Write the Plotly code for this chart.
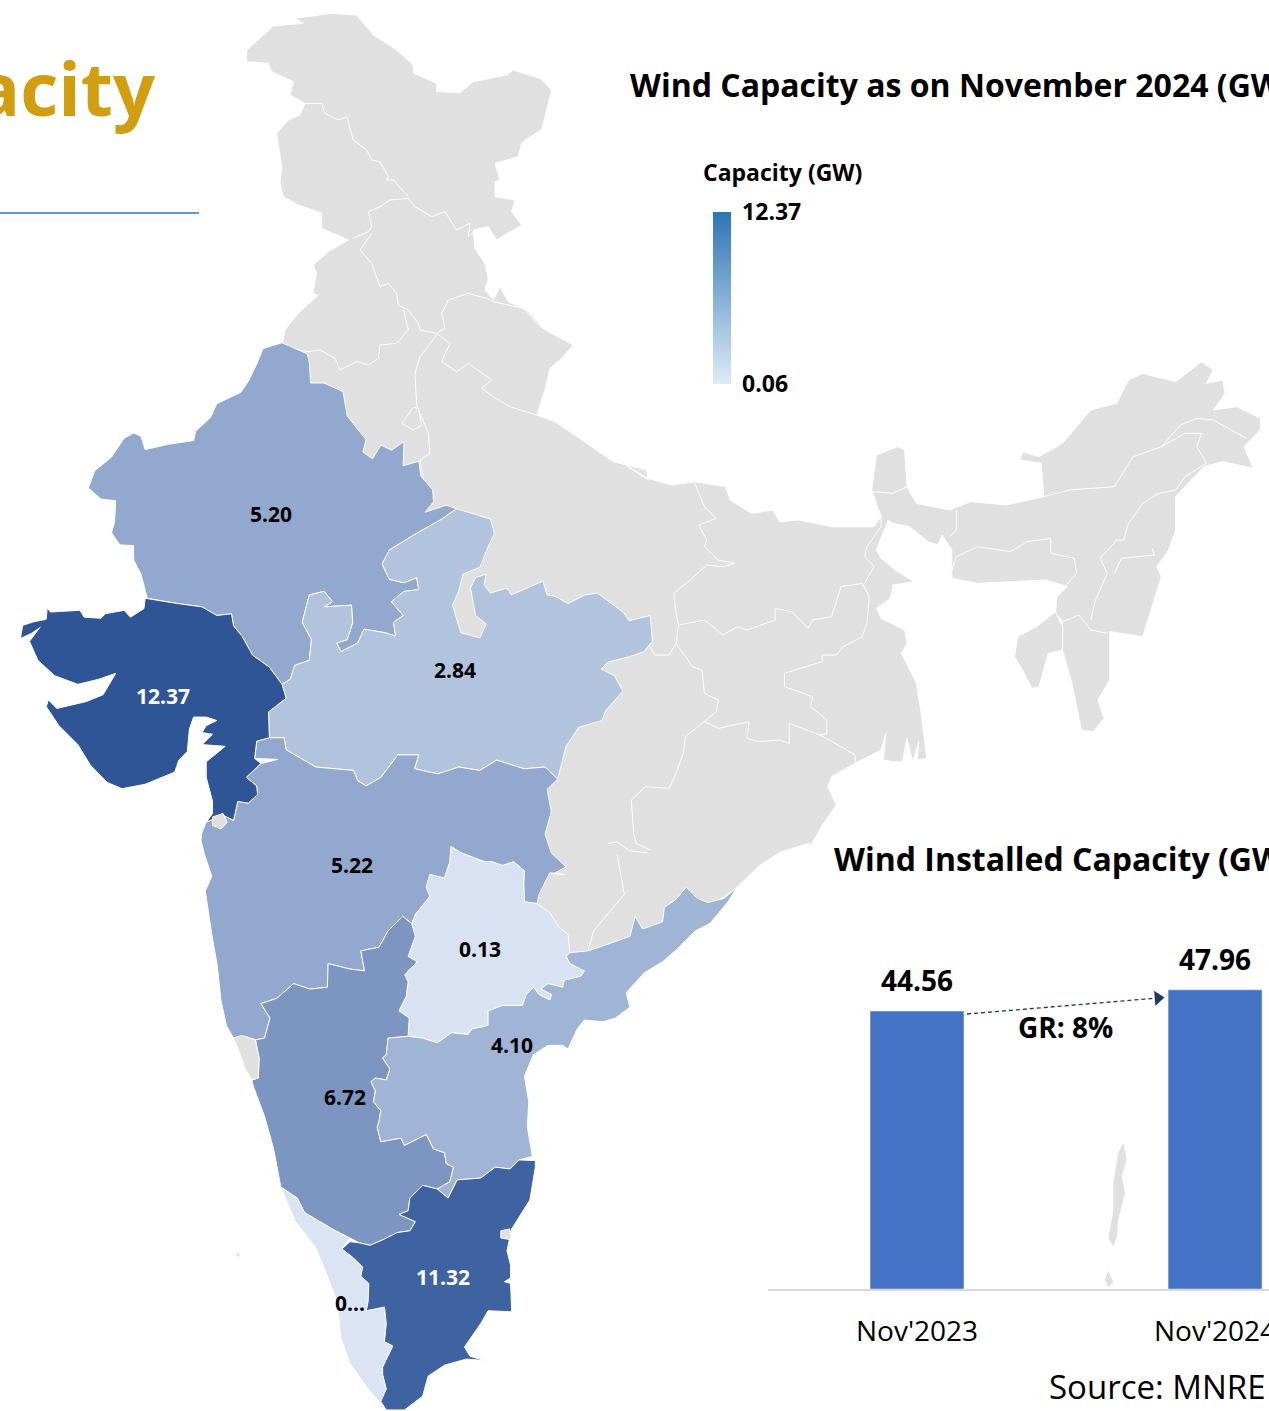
import plotly.graph_objects as go

# ---------- data ----------
bar_categories = ["Nov'2023", "Nov'2024"]
bar_values = [44.56, 47.96]
state_names = ["Gujarat", "Tamil Nadu", "Karnataka", "Maharashtra", "Rajasthan", "Andhra Pradesh", "Madhya Pradesh", "Telangana", "Kerala"]
state_values = [12.37, 11.32, 6.72, 5.22, 5.20, 4.10, 2.84, 0.13, 0.06]
state_labels = ["12.37", "11.32", "6.72", "5.22", "5.20", "4.10", "2.84", "0.13", "0..."]
state_label_colors = ["white", "white", "black", "black", "black", "black", "black", "black", "black"]
state_label_x = [163, 443, 345, 352, 271, 512, 455, 480, 350]
state_label_y = [699, 1280, 1100, 868, 517, 1048, 673, 952, 1306]
state_fill = ["#2F5597", "#3F62A0", "#7D95C1", "#93A8CE", "#93A8CE", "#A0B4D6", "#B2C3DE", "#D9E2F3", "#DBE4F3"]

# ---------- map geometry, traced from four frames ----------
def Z1(p): return [(x / 2.376, 340 + y / 2.904) for x, y in p]
def Z2(p): return [(190 + x / 2.751, 840 + y / 2.751) for x, y in p]
def Z3(p): return [(240 + x / 3, y / 3) for x, y in p]
def Z4(p): return [(530 + x / 2.122, 350 + y / 3) for x, y in p]
def Z5(p): return [(760 + x / 3, 830 + y / 2.7) for x, y in p]

rajasthan = Z1([(670,8),(625,25),(610,70),(590,120),(572,152),(515,185),(500,225),(465,265),(460,292),(400,303),(345,318),(335,280),(318,270),(295,285),(265,340),(225,380),(210,430),(240,462),(275,467),(272,530),(265,560),(285,595),(317,597),(318,640),(335,680),(350,750),(420,765),(480,775),(515,800),(550,795),(555,830),(575,860),(600,915),(640,950),(670,1000),(690,985),(700,945),(735,930),(740,870),(718,820),(735,740),(770,730),(790,760),(770,775),(835,770),(838,820),(825,870),(800,880),(810,905),(850,880),(865,840),(915,850),(940,860),(935,820),(958,800),(930,760),(960,730),(995,725),(990,690),(960,705),(925,695),(908,650),(925,610),(985,565),(1050,520),(1085,490),(1060,480),(1010,500),(1030,470),(1028,435),(1000,395),(995,352),(958,365),(960,295),(930,320),(905,305),(885,345),(862,325),(870,290),(825,220),(815,150),(770,125),(738,125),(735,65),(730,40),(670,8)])
gujarat = Z1([(345,750),(342,780),(310,805),(295,785),(250,795),(240,808),(200,805),(190,785),(120,790),(112,778),(110,810),(70,875),(90,930),(130,975),(185,1000),(235,985),(275,968),(245,1030),(205,1050),(135,1070),(115,1045),(110,1065),(140,1120),(185,1175),(215,1235),(255,1285),(290,1303),(345,1290),(415,1255),(425,1220),(445,1195),(450,1130),(460,1095),(490,1095),(515,1105),(490,1120),(480,1140),(505,1145),(480,1175),(535,1180),(490,1225),(490,1270),(505,1340),(505,1375),(490,1400),(530,1380),(555,1395),(565,1340),(590,1345),(612,1320),(610,1295),(585,1270),(620,1230),(605,1215),(610,1165),(640,1155),(638,1080),(680,1040),(670,1000),(640,950),(600,915),(575,860),(555,830),(550,795),(515,800),(480,775),(420,765),(345,750)])
kutch_islets = Z1([(50,865),(55,830),(80,820),(120,810),(100,830),(75,850),(50,865)])
madhya = Z1([(1085,490),(1165,520),(1175,560),(1160,600),(1140,660),(1100,680),(1090,730),(1075,770),(1095,850),(1140,865),(1155,825),(1130,800),(1118,720),(1130,690),(1155,680),(1150,710),(1165,735),(1205,720),(1215,740),(1290,700),(1300,740),(1320,745),(1350,765),(1390,740),(1420,735),(1480,790),(1495,815),(1545,800),(1550,875),(1530,905),(1495,920),(1445,935),(1428,955),(1460,975),(1480,1020),(1440,1075),(1430,1105),(1375,1125),(1345,1180),(1325,1275),(1295,1240),(1245,1245),(1180,1220),(1140,1250),(1090,1240),(1040,1260),(985,1245),(995,1205),(945,1205),(905,1270),(870,1295),(850,1280),(840,1250),(750,1240),(680,1190),(675,1155),(640,1155),(638,1080),(680,1040),(670,1000),(690,985),(700,945),(735,930),(740,870),(718,820),(735,740),(770,730),(790,760),(770,775),(835,770),(838,820),(825,870),(800,880),(810,905),(850,880),(865,840),(915,850),(940,860),(935,820),(958,800),(930,760),(960,730),(995,725),(990,690),(960,705),(925,695),(908,650),(925,610),(985,565),(1050,520),(1085,490)])
maharashtra = Z1([(490,1400),(530,1380),(555,1395),(565,1340),(590,1345),(612,1320),(610,1295),(585,1270),(620,1230),(660,1218),(605,1215),(610,1165),(640,1155),(675,1155),(680,1190),(750,1240),(840,1250),(850,1280),(870,1295),(905,1270),(945,1205),(995,1205),(985,1245),(1040,1260),(1090,1240),(1140,1250),(1180,1220),(1245,1245),(1295,1240),(1325,1275),(1300,1305),(1310,1370),(1295,1435),(1310,1490),(1345,1530),(1315,1550)]) + Z2([(1030,95),(990,90),(960,150),(955,175),(920,170),(918,120),(920,85),(890,60),(860,70),(830,60),(810,60),(745,35),(718,18),(715,60),(700,105),(660,95),(650,130),(660,155),(620,205),(610,230),(585,210),(545,250),(520,295),(470,305),(480,360),(440,355),(380,340),(378,405),(330,410),(285,395),(240,435),(195,450),(220,490),(205,545),(180,550),(150,540),(120,545),(100,510),(85,440),(75,345),(60,260),(50,200),(42,140),(60,100),(40,40),(30,0)]) + Z1([(480,1430),(490,1400)])
telangana = Z2([(718,18),(745,35),(810,60),(830,60),(860,70),(890,60),(920,85),(918,120),(920,170),(955,175),(990,200),(1015,240),(1040,260),(1045,310),(1035,320),(1045,340),(1085,360),(1075,375),(1030,385),(1025,405),(985,395),(965,410),(995,425),(990,440),(960,425),(945,405),(925,425),(915,455),(860,455),(820,470),(820,510),(775,520),(765,535),(720,530),(680,558),(640,545),(600,540),(603,490),(575,470),(595,430),(600,390),(590,370),(625,335),(600,320),(620,265),(610,230),(620,205),(660,155),(650,130),(660,95),(700,105),(715,60),(718,18)])
karnataka = Z2([(610,230),(620,265),(600,320),(625,335),(590,370),(600,390),(595,430),(575,470),(603,490),(600,540),(545,545),(540,590),(530,600),(550,630),(540,660),(510,655),(498,665),(510,690),(505,720),(525,745),(520,775),(515,790),(525,830),(555,825),(580,820),(590,840),(630,820),(650,810),(670,850),(700,860),(705,890),(725,900),(715,940),(680,960),(640,950),(605,985),(600,1020),(575,1030),(620,1050),(605,1075),(570,1080),(530,1100),(495,1115),(465,1108),(440,1095),(400,1075),(365,1055),(315,1025),(295,985),(250,955),(230,850),(205,760),(175,680),(170,660),(188,655),(190,600),(180,550),(205,545),(220,490),(195,450),(240,435),(285,395),(330,410),(378,405),(380,340),(440,355),(480,360),(470,305),(520,295),(545,250),(585,210),(610,230)])
goa = Z2([(120,545),(140,538),(150,540),(180,550),(190,600),(188,655),(170,660),(150,625),(140,595),(120,545)])
andhra = Z2([(1045,310),(1095,305),(1140,290),(1210,265),(1225,210),(1245,245),(1300,225),(1305,185),(1335,165),(1365,130),(1395,160),(1425,172),(1470,160),(1505,130),(1480,170),(1430,230),(1390,250),(1340,300),(1300,335),(1250,365),(1200,420),(1210,460),(1170,490),(1135,500),(1085,495),(1065,520),(1040,575),(1025,565),(985,565),(945,590),(920,650),(932,720),(928,790),(942,870),(905,880),(880,905),(840,900),(800,930),(735,935),(710,985),(680,960),(715,940),(725,900),(705,890),(700,860),(670,850),(650,810),(630,820),(590,840),(580,820),(555,825),(525,830),(515,790),(520,775),(525,745),(505,720),(510,690),(498,665),(510,655),(540,660),(550,630),(530,600),(540,590),(545,545),(600,540),(640,545),(680,558),(720,530),(765,535),(775,520),(820,510),(820,470),(860,455),(915,455),(925,425),(945,405),(960,425),(990,440),(995,425),(965,410),(985,395),(1025,405),(1030,385),(1075,375),(1085,360),(1045,340),(1035,320),(1045,310)])
tamil_nadu = Z2([(950,882),(905,880),(880,905),(840,900),(800,930),(735,935),(710,985),(680,960),(640,950),(605,985),(600,1020),(575,1030),(620,1050),(605,1075),(570,1080),(530,1100),(495,1115),(465,1108),(440,1105),(418,1125),(450,1150),(475,1175),(470,1200),(492,1220),(490,1270),(485,1295),(535,1285),(540,1330),(535,1380),(558,1392),(530,1450),(530,1470),(540,1510),(525,1545),(540,1568),(590,1568),(640,1530),(655,1475),(700,1445),(760,1428),(810,1432),(770,1420),(755,1395),(800,1330),(820,1295),(885,1298),(882,1220),(865,1215),(882,1205),(882,1170),(872,1130),(885,1070),(935,990),(950,900),(950,882)])
puducherry = Z2([(855,1075),(880,1070),(885,1100),(855,1095),(855,1075)])
kerala = Z2([(250,955),(295,985),(315,1025),(365,1055),(400,1075),(440,1095),(418,1125),(450,1150),(475,1175),(470,1200),(492,1220),(490,1270),(485,1295),(535,1285),(540,1330),(535,1380),(558,1392),(530,1450),(530,1470),(540,1510),(525,1550),(490,1510),(440,1440),(415,1370),(405,1270),(370,1180),(345,1120),(290,1050),(250,955)])
dadra = Z1([(505,1385),(530,1375),(540,1400),(525,1420),(505,1410),(505,1385)])
lakshadweep = Z2([(125,1132),(138,1142),(132,1148),(125,1132)])

grey_mainland = Z3([(125,1040),(135,990),(175,940),(235,885),(218,880),(230,820),(220,795),(265,755),(325,720),(245,685),(245,640),(175,615),(130,590),(120,550),(125,500),(110,400),(145,360),(180,345),(195,310),(150,285),(160,245),(95,215),(85,190),(20,185),(20,150),(75,100),(100,78),(190,70),(165,55),(275,40),(350,45),(400,105),(470,150),(520,195),(520,220),(590,250),(590,275),(660,278),(700,245),(800,225),(820,210),(900,235),(935,270),(915,350),(905,390),(870,410),(845,430),(835,470),(765,490),(780,540),(765,545),(765,590),(825,600),(815,635),(845,675),(770,720),(745,680),(700,690),(705,745),(735,790),(745,835),(735,870),(760,900),(780,860),(805,905),(860,930),(915,990),(1000,1035),(965,1075),(930,1105),(915,1170),(890,1245),(945,1265),(1040,1330),(1120,1385),(1220,1410),(1225,1440)]) + Z4([(180,325),(250,385),(300,405),(350,395),(415,410),(425,450),(470,490),(515,480),(530,515),(570,510),(640,530),(730,530),(745,500),(725,420),(735,315),(780,290),(795,300),(800,410),(820,460),(890,480),(935,455),(1010,465),(1090,440),(1085,340),(1040,330),(1045,305),(1080,320),(1130,280),(1190,180),(1245,160),(1270,90),(1300,70),(1370,95),(1425,35),(1450,60),(1435,100),(1470,90),(1475,130),(1450,180),(1500,170),(1550,205),(1550,240),(1515,290),(1535,355),(1470,335),(1430,350),(1370,440),(1370,540),(1355,600),(1330,650),(1340,680),(1300,860),(1230,845),(1230,990),(1205,1050),(1218,1105),(1195,1145),(1170,1140),(1150,1000),(1130,900),(1130,815),(1115,790),(1118,740),(1140,710),(1095,690),(1020,695),(950,700),(895,685),(895,600),(875,555),(865,585),(845,575),(805,530),(770,520),(760,510),(735,600),(745,625),(780,665),(815,695),(770,705),(765,745),(735,775),(745,805),(795,840),(800,880),(788,910),(805,960),(820,1000),(830,1090),(842,1225),(822,1230),(825,1175),(812,1235),(800,1165),(790,1235),(770,1235),(750,1230),(755,1150),(745,1200),(690,1240),(640,1280),(632,1310),(650,1365),(625,1415),(590,1500)]) + Z5([(150,35),(60,60),(0,95)]) + Z2([(1505,130),(1300,280),(1100,350),(1000,330),(800,200)]) + Z1([(1000,1000),(600,500),(500,300)]) + Z3([(100,1100),(125,1040)])
tripura = Z4([(1115,785),(1130,830),(1130,900),(1100,910),(1090,960),(1080,1010),(1065,1015),(1045,960),(1028,920),(1035,860),(1075,830),(1115,785)])
andaman = Z5([(1090,845),(1100,890),(1085,935),(1095,980),(1075,1050),(1070,1100),(1060,1125),(1045,1100),(1060,1030),(1060,950),(1075,870),(1090,845)])
nicobar = Z5([(1045,1190),(1060,1220),(1045,1235),(1035,1215),(1045,1190)])

border_lines = [
    Z3([(195,310),(245,310),(255,340),(295,360),(320,350),(340,420),(380,450),(395,480),(420,485),(445,530),(440,540),(460,540),(505,590)]),
    Z3([(505,595),(450,600),(420,620),(385,635),(395,680),(385,695),(340,715)]),
    Z3([(395,700),(360,750),(395,790),(420,860),(445,850),(470,880),(475,915),(505,930),(535,970),(540,990),(590,1000)]),
    Z3([(505,595),(525,620),(575,650),(615,635),(650,690),(690,670),(685,710),(710,690)]),
    Z3([(705,745),(735,790),(745,835)]),
    Z3([(590,1000),(615,985),(605,940),(625,900),(685,880),(740,895),(760,905),(850,925),(890,970),(915,990)]),
    Z3([(590,1000),(630,1030),(605,1085),(650,1115),(685,1090),(755,1140),(725,1165),(760,1190),(810,1220),(890,1245)]),
    Z3([(590,1005),(540,1070),(525,1120),(530,1215),(565,1300),(570,1360),(540,1380),(550,1440)]),
    Z3([(490,930),(505,990),(470,1030),(420,1035),(415,1075),(385,1095),(350,1085),(300,1110),(285,1075),(240,1050),(205,1055),(125,1040)]),
    Z3([(520,1222),(485,1270),(520,1290),(545,1275),(535,1225),(520,1222)]),
    Z4([(350,400),(370,470),(395,505),(358,525),(375,570),(370,590),(400,630),(435,640),(410,650),(375,645),(340,690),(305,730),(310,790),(315,825),(310,880),(295,915),(265,915),(250,880)]),
    Z4([(315,825),(370,810),(410,855),(440,830),(460,840),(520,810),(520,775),(555,785),(590,835),(600,810),(640,800),(660,710),(705,700),(720,740),(715,820),(705,860),(665,890),(650,915),(620,915),(620,935),(585,950),(540,970),(540,1010),(600,1040),(595,1070),(630,1110),(630,1150),(615,1155),(660,1190),(690,1215),(690,1240)]),
    Z4([(745,495),(745,530),(715,590),(710,620),(730,650),(710,700)]),
    Z4([(310,880),(345,950),(365,960),(370,1030),(400,1050),(395,1085),(370,1115),(400,1135),(465,1115),(460,1165),(485,1175),(530,1170),(550,1180),(550,1120),(615,1155)]),
    Z4([(370,1115),(330,1160),(325,1210),(310,1270),(295,1315),(245,1310),(215,1350),(220,1450),(225,1480),(255,1500)]),
    Z4([(725,425),(770,430),(800,410)]),
    Z4([(905,480),(905,540),(890,560)]),
    Z4([(895,660),(905,620),(950,590),(1020,605),(1055,575),(1105,565),(1105,610),(1155,625),(1160,670),(1135,710)]),
    Z4([(1090,440),(1145,420),(1240,410),(1280,320),(1340,290),(1380,225),(1415,205),(1450,210),(1520,265)]),
    Z4([(1425,250),(1390,250),(1340,290)]),
    Z4([(1425,250),(1415,290),(1435,340),(1390,380),(1370,420),(1335,430),(1300,460),(1270,520),(1260,570),(1245,570),(1210,625),(1225,670),(1200,750),(1190,810)]),
    Z4([(1240,670),(1255,625),(1325,615),(1320,595)]),
    Z4([(1190,840),(1225,850)]),
    Z4([(1130,815),(1165,795),(1190,840)]),
    Z2([(1175,40),(1195,150),(1110,250),(1095,305)]),
    Z2([(1150,10),(1175,5),(1210,30),(1258,35)]),
]

FONT = "Open Sans"
GREY = "#E0E0E0"

fig = go.Figure()

def poly(points, fill, name, lw=1.0):
    fig.add_trace(go.Scatter(x=[p[0] for p in points], y=[p[1] for p in points], mode="lines", fill="toself",
                             fillcolor=fill, line=dict(color="white", width=lw), name=name, showlegend=False, hoverinfo="name"))

poly(grey_mainland, GREY, "Rest of India")
poly(tripura, GREY, "Tripura")
poly(andaman, GREY, "Andaman", 0)
poly(nicobar, GREY, "Nicobar", 0)
poly(lakshadweep, GREY, "Lakshadweep", 0)
for line in border_lines:
    fig.add_trace(go.Scatter(x=[p[0] for p in line], y=[p[1] for p in line], mode="lines",
                             line=dict(color="white", width=1), showlegend=False, hoverinfo="skip"))

state_shapes = {"Rajasthan": rajasthan, "Madhya Pradesh": madhya, "Maharashtra": maharashtra, "Gujarat": gujarat,
                "Telangana": telangana, "Karnataka": karnataka, "Andhra Pradesh": andhra, "Kerala": kerala, "Tamil Nadu": tamil_nadu}
for n in ["Rajasthan", "Madhya Pradesh", "Maharashtra", "Gujarat", "Telangana", "Karnataka", "Andhra Pradesh", "Kerala", "Tamil Nadu"]:
    poly(state_shapes[n], state_fill[state_names.index(n)], n)
poly(kutch_islets, state_fill[0], "Gujarat", 0)
poly(goa, GREY, "Goa")
poly(dadra, GREY, "Dadra")
poly(puducherry, GREY, "Puducherry")

# state labels, which also carry the continuous legend
fig.add_trace(go.Scatter(
    x=state_label_x, y=state_label_y, mode="markers+text", text=state_labels, textposition="middle center",
    textfont=dict(family=FONT, size=21, color=state_label_colors, weight=700), showlegend=False,
    customdata=state_names, hovertemplate="%{customdata}: %{marker.color}<extra></extra>",
    marker=dict(size=1, opacity=0, color=state_values, cmin=0.06, cmax=12.37,
                colorscale=[[0, "#DEEBF7"], [1, "#2E75B6"]],
                colorbar=dict(x=713 / 1269, xanchor="left", xpad=0, y=1 - 212 / 1411, yanchor="top", ypad=0,
                              lenmode="pixels", len=172, thicknessmode="pixels", thickness=18, outlinewidth=0,
                              tickmode="array", tickvals=[0.06, 12.37], ticktext=["0.06", "12.37"],
                              ticks="outside", ticklen=7, tickcolor="rgba(0,0,0,0)",
                              tickfont=dict(family=FONT, size=23, color="black", weight=700)))))

# growth arrow and header rule, in page pixels
fig.add_trace(go.Scatter(x=[967, 1158], y=[1014, 998], mode="lines", line=dict(color="#1F3864", width=1.3, dash="4px,3px"),
                         showlegend=False, hoverinfo="skip"))
fig.add_trace(go.Scatter(x=[1158], y=[998], mode="markers", showlegend=False, hoverinfo="skip",
                         marker=dict(symbol="triangle-right", size=13, color="#1F3864", angle=-5)))
fig.add_trace(go.Scatter(x=[0, 199], y=[213, 213], mode="lines", line=dict(color="#5B9BD5", width=2),
                         showlegend=False, hoverinfo="skip"))

# bar chart
fig.add_trace(go.Bar(x=bar_categories, y=bar_values, xaxis="x2", yaxis="y2", marker=dict(color="#4472C4"),
                     showlegend=False, hoverinfo="x+y"))
for c, v in zip(bar_categories, bar_values):
    fig.add_annotation(xref="x2", yref="y2", x=c, y=v, text=f"{v:.2f}", showarrow=False, yanchor="middle", yshift=31,
                       font=dict(family=FONT, size=28, color="black", weight=700))

def label(text, x, y, size, color="black", weight=700, xanchor="left"):
    fig.add_annotation(xref="x", yref="y", x=x, y=y, text=text, showarrow=False, xanchor=xanchor, yanchor="middle",
                       font=dict(family=FONT, size=size, color=color, weight=weight))

label("Wind Capacity", 158, 87, 74, "#D19E12", xanchor="right")
label("Wind Capacity as on November 2024 (GW)", 628, 84, 32)
label("Wind Installed Capacity (GW)", 832, 858, 32)
label("Capacity (GW)", 701, 172, 23)
label("GR: 8%", 1065, 1027, 28, xanchor="center")
label("Source: MNRE", 1047, 1386, 33, weight=400)

fig.update_layout(
    width=1269, height=1411, margin=dict(l=0, r=0, t=0, b=0, autoexpand=False), paper_bgcolor="white", plot_bgcolor="rgba(0,0,0,0)",
    bargap=0.685, font=dict(family=FONT),
    xaxis=dict(domain=[0, 1], range=[0, 1269], visible=False, fixedrange=True),
    yaxis=dict(domain=[0, 1], range=[1411, 0], visible=False, fixedrange=True),
    xaxis2=dict(domain=[768 / 1269, 1], anchor="y2", range=[-0.5, 1.181], type="category", showgrid=False, showline=True,
                linecolor="#D9D9D9", linewidth=2, ticks="", ticklabelstandoff=16, tickfont=dict(family=FONT, size=28, color="black")),
    yaxis2=dict(domain=[1 - 1289 / 1411, 1 - 900 / 1411], anchor="x2", range=[0, 62.37], visible=False),
)
fig.write_html("out.html", post_script="document.body.style.margin='0';document.body.style.overflow='hidden';",
               config={"displayModeBar": False})
